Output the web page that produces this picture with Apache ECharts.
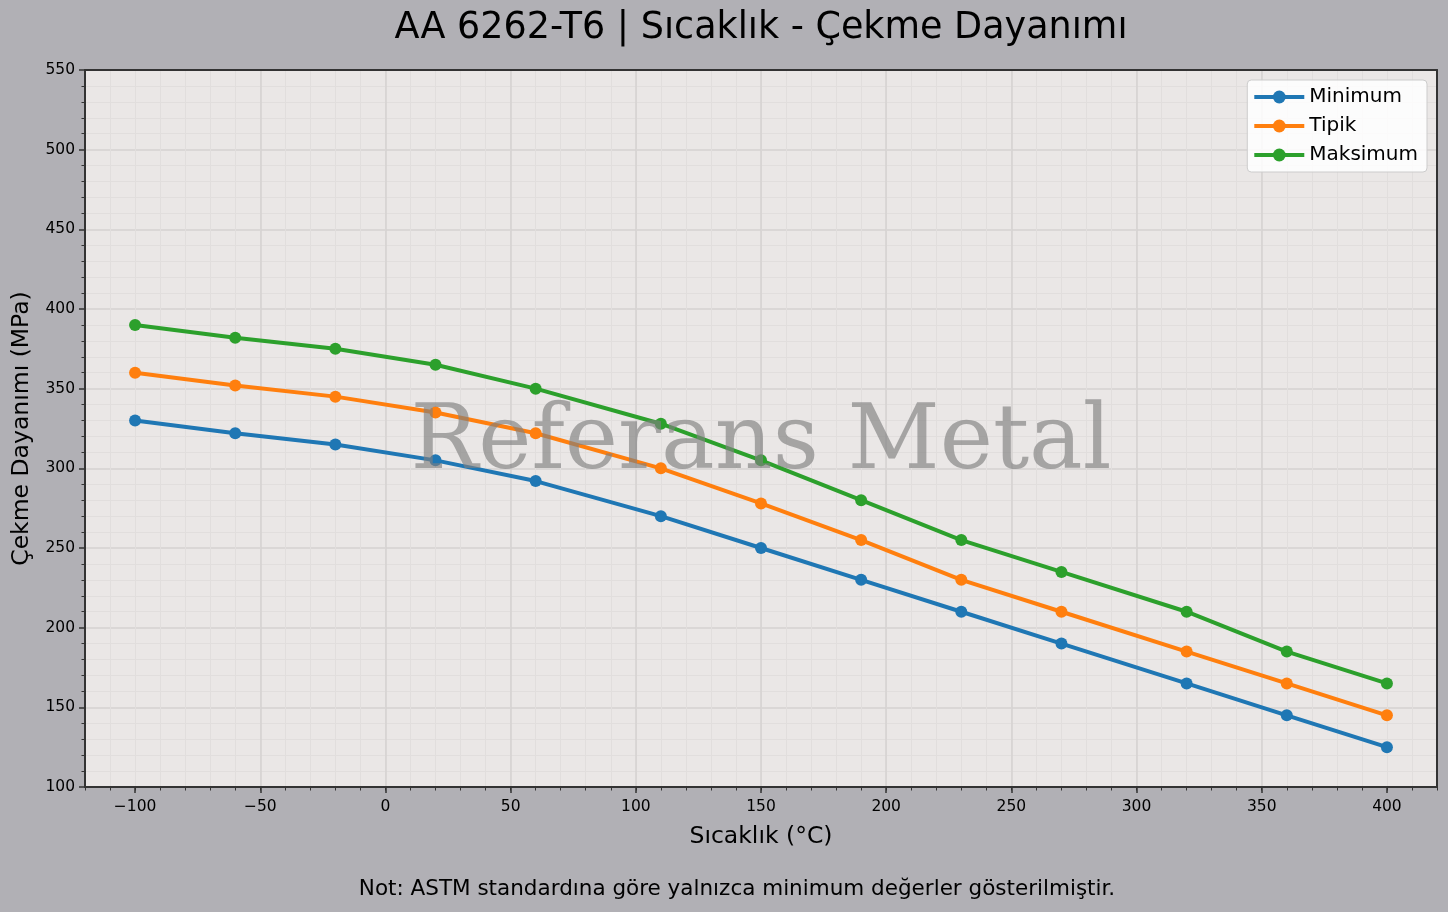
<!DOCTYPE html>
<html>
<head>
<meta charset="utf-8">
<script src="https://cdn.jsdelivr.net/npm/echarts@6/dist/echarts.min.js"></script>
<style>
  html, body { margin: 0; padding: 0; background: #b1b0b5; }
  #chart { width: 1448px; height: 912px; }
</style>
</head>
<body>
<div id="chart"></div>
<script>
// temperature (°C)
const temps = [-100, -60, -20, 20, 60, 110, 150, 190, 230, 270, 320, 360, 400];
// tensile strength (MPa)
const minimum = [330, 322, 315, 305, 292, 270, 250, 230, 210, 190, 165, 145, 125];
const tipik = [360, 352, 345, 335, 322, 300, 278, 255, 230, 210, 185, 165, 145];
const maksimum = [390, 382, 375, 365, 350, 328, 305, 280, 255, 235, 210, 185, 165];
const seriesNames = ['Minimum', 'Tipik', 'Maksimum'];
const colors = ['#1f77b4', '#ff7f0e', '#2ca02c'];
// major x ticks
const xTicks = [-100, -50, 0, 50, 100, 150, 200, 250, 300, 350, 400];

const font = 'DejaVu Sans';
const pair = (ys) => temps.map((t, i) => [t, ys[i]]);
const majorGrid = { show: true, showMinLine: false, showMaxLine: false, lineStyle: { color: '#d5d2d1', width: 1.5 } };
const minorGrid = { show: true, showMinLine: false, showMaxLine: false, lineStyle: { color: '#e1dedd', width: 1 } };
const spine = { show: true, onZero: false, lineStyle: { color: '#333', width: 2 } };
const frameAxis = {
  type: 'value',
  axisLine: spine,
  axisTick: { show: false },
  axisLabel: { show: false },
  splitLine: { show: false }
};

const chart = echarts.init(document.getElementById('chart'));

const mkSeries = (name, ys, color) => ({
  name,
  type: 'line',
  xAxisIndex: 1,
  data: pair(ys),
  symbol: 'circle',
  symbolSize: 12,
  showSymbol: true,
  lineStyle: { width: 4, color },
  itemStyle: { color },
  z: 3
});

chart.setOption({
  backgroundColor: '#b1b0b5',
  animation: false,
  textStyle: { fontFamily: font },
  grid: {
    left: 85, right: 11, top: 70, bottom: 125,
    show: true,
    backgroundColor: '#eae7e6',
    borderWidth: 0
  },
  legend: {
    data: seriesNames,
    orient: 'vertical',
    right: 21,
    top: 80,
    itemWidth: 50,
    itemHeight: 16,
    itemGap: 9,
    padding: [7, 9, 7, 5],
    backgroundColor: 'rgba(255,255,255,0.85)',
    borderColor: '#ccc',
    borderWidth: 1,
    borderRadius: 4,
    lineStyle: { width: 4 },
    textStyle: { fontFamily: font, fontSize: 20, color: '#000' }
  },
  xAxis: [
    {
      // minor ticks / minor grid every 10
      type: 'value',
      min: -120, max: 420, interval: 10,
      position: 'bottom',
      axisLine: { show: false, onZero: false },
      axisTick: { show: true, length: 3.5, lineStyle: { color: '#333', width: 1 } },
      axisLabel: { show: false },
      splitLine: minorGrid
    },
    {
      type: 'value',
      min: -120, max: 420,
      position: 'bottom',
      name: 'Sıcaklık (°C)',
      nameLocation: 'middle',
      nameGap: 38,
      nameTextStyle: { fontFamily: font, fontSize: 23.5, color: '#000' },
      axisLine: spine,
      axisTick: { show: true, length: 6, customValues: xTicks, lineStyle: { color: '#333', width: 1.5 } },
      axisLabel: {
        fontFamily: font, fontSize: 15.5, color: '#000', margin: 12,
        customValues: xTicks,
        formatter: (v) => (v < 0 ? '\u2212' + Math.abs(v) : String(v))
      },
      splitLine: majorGrid
    },
    Object.assign({ min: -120, max: 420, position: 'top' }, frameAxis)
  ],
  yAxis: [
    {
      type: 'value',
      min: 100, max: 550, interval: 50,
      position: 'left',
      name: 'Çekme Dayanımı (MPa)',
      nameLocation: 'middle',
      nameGap: 51,
      nameTextStyle: { fontFamily: font, fontSize: 23.5, color: '#000' },
      axisLine: spine,
      axisTick: { show: true, length: 6, lineStyle: { color: '#333', width: 1.5 } },
      minorTick: { show: true, splitNumber: 5, length: 3.5, lineStyle: { color: '#333' } },
      axisLabel: { fontFamily: font, fontSize: 15.5, color: '#000', margin: 10 },
      splitLine: majorGrid,
      minorSplitLine: minorGrid
    },
    Object.assign({ min: 100, max: 550, position: 'right' }, frameAxis)
  ],
  graphic: [
    {
      type: 'text',
      x: 761,
      y: 29,
      style: {
        text: 'AA 6262-T6 | Sıcaklık - Çekme Dayanımı',
        font: '36.5px "DejaVu Sans"',
        fill: '#000',
        textAlign: 'center',
        textVerticalAlign: 'middle'
      }
    },
    {
      type: 'text',
      x: 761,
      y: 445,
      z: 100,
      silent: true,
      style: {
        text: 'Referans Metal',
        font: '90px "DejaVu Serif"',
        fill: 'rgba(128,128,128,0.65)',
        textAlign: 'center',
        textVerticalAlign: 'middle'
      }
    },
    {
      type: 'text',
      x: 737,
      y: 889,
      style: {
        text: 'Not: ASTM standardına göre yalnızca minimum değerler gösterilmiştir.',
        font: '21.5px "DejaVu Sans"',
        fill: '#000',
        textAlign: 'center',
        textVerticalAlign: 'middle'
      }
    }
  ],
  series: [
    mkSeries(seriesNames[0], minimum, colors[0]),
    mkSeries(seriesNames[1], tipik, colors[1]),
    mkSeries(seriesNames[2], maksimum, colors[2])
  ]
});
</script>
</body>
</html>
